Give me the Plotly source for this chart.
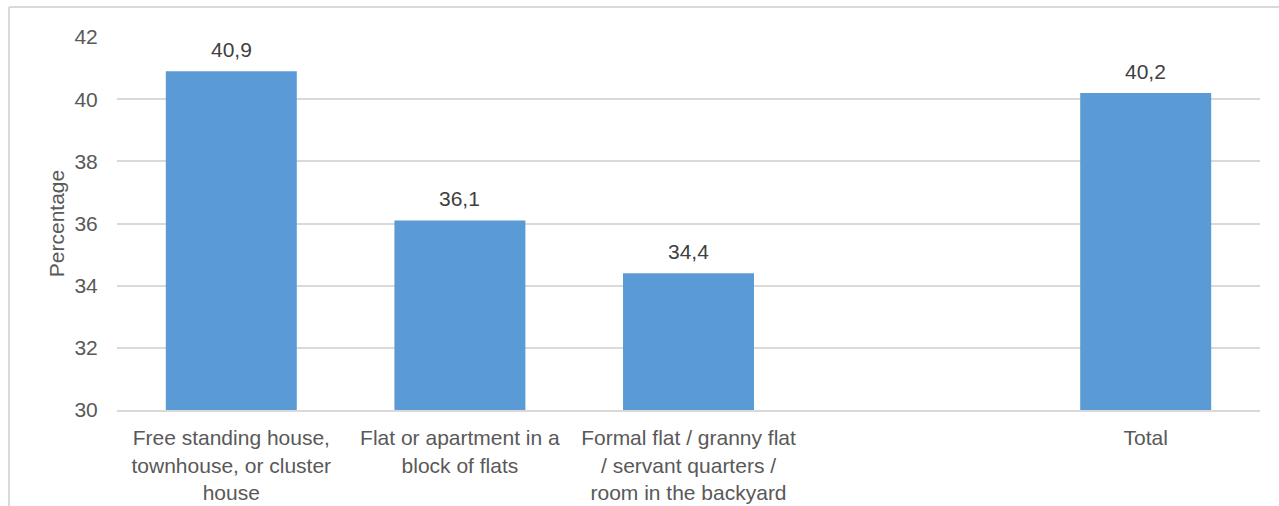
import plotly.graph_objects as go

# Dwelling types (blank slot separates the breakdown from the total)
categories = [
    "Free standing house,<br>townhouse, or cluster<br>house",
    "Flat or apartment in a<br>block of flats",
    "Formal flat / granny flat<br>/ servant quarters /<br>room in the backyard",
    " ",
    "Total",
]
values = [40.9, 36.1, 34.4, None, 40.2]
y_ticks = [30, 32, 34, 36, 38, 40, 42]

FONT = "Liberation Sans, Arial, sans-serif"
BAR = "#5B9BD5"
GRID = "#D9D9D9"

fig = go.Figure(
    go.Bar(
        x=categories,
        y=values,
        marker=dict(color=BAR, line=dict(width=0)),
        hoverinfo="skip",
    )
)

# value labels above each bar
for c, v in zip(categories, values):
    if v is None:
        continue
    fig.add_annotation(
        x=c, y=v, text=f"{v:.1f}".replace(".", ","),
        showarrow=False, yanchor="bottom", yshift=8,
        font=dict(family=FONT, size=21, color="#404040"),
    )

# outer frame lines
fig.add_shape(type="line", xref="paper", yref="paper",
              x0=-0.0945, x1=-0.0945, y0=1.0804, y1=-0.26,
              line=dict(color=GRID, width=2))
fig.add_shape(type="line", xref="paper", yref="paper",
              x0=-0.0945, x1=1.02, y0=1.0804, y1=1.0804,
              line=dict(color=GRID, width=2))

fig.update_layout(
    width=1279, height=506,
    margin=dict(l=117, r=19, t=37, b=96),
    paper_bgcolor="white", plot_bgcolor="white",
    bargap=0.427,
    showlegend=False,
    font=dict(family=FONT, size=21, color="#595959"),
    xaxis=dict(
        type="category", automargin=False,
        categoryorder="array", categoryarray=categories,
        showgrid=False, showline=True, linecolor=GRID, linewidth=2,
        ticks="outside", ticklen=8, tickcolor="rgba(0,0,0,0)",
        tickfont=dict(family=FONT, size=21, color="#595959"),
    ),
    yaxis=dict(
        range=[30, 42], tickvals=y_ticks, automargin=False,
        showgrid=True, gridcolor=GRID, gridwidth=2,
        zeroline=False, showline=False,
        ticks="outside", ticklen=14, tickcolor="rgba(0,0,0,0)",
        tickfont=dict(family=FONT, size=21, color="#595959"),
        title=dict(text="Percentage", standoff=4,
                   font=dict(family=FONT, size=21, color="#595959")),
    ),
)

fig.write_html("out.html")
